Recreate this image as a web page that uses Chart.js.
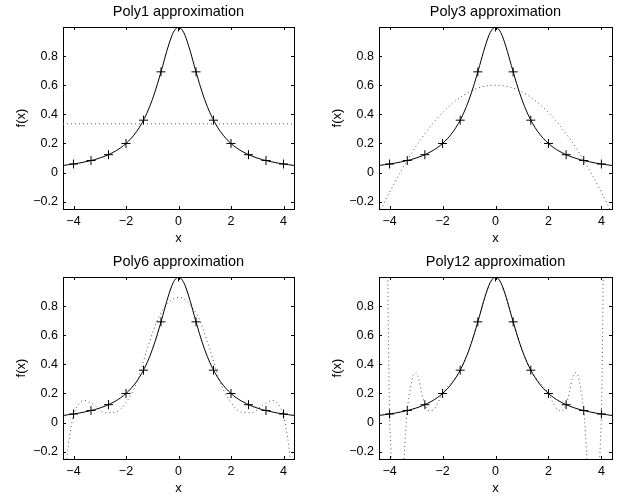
<!DOCTYPE html>
<html>
<head>
<meta charset="utf-8">
<script src="https://cdn.jsdelivr.net/npm/chart.js@4.4.0/dist/chart.umd.min.js"></script>
<style>
  html, body { margin: 0; padding: 0; background: #fff; overflow: hidden; }
  #fig { position: relative; width: 619px; height: 498px; }
  #fig canvas { position: absolute; }
</style>
</head>
<body>
<div id="fig">
  <canvas id="p1" width="310" height="250" style="left:0;top:0"></canvas>
  <canvas id="p2" width="309" height="250" style="left:310px;top:0"></canvas>
  <canvas id="p3" width="310" height="248" style="left:0;top:250px"></canvas>
  <canvas id="p4" width="309" height="248" style="left:310px;top:250px"></canvas>
</div>
<script>
"use strict";

const X_MIN = -4.4, X_MAX = 4.4;
const Y_MIN = -0.25, Y_MAX = 1;
const xTicks = [-4, -2, 0, 2, 4];
const yTicks = [-0.2, 0, 0.2, 0.4, 0.6, 0.8];
const titles = ["Poly1 approximation", "Poly3 approximation", "Poly6 approximation", "Poly12 approximation"];

// f(x) = 1/(1+x^2), solid curve
const curveX = [-4.4, -4.2, -4.0, -3.8, -3.6, -3.4, -3.2, -3.0, -2.8, -2.6, -2.4, -2.2, -2.0, -1.8, -1.6,
  -1.4, -1.2, -1.0, -0.8, -0.6, -0.4, -0.2, 0, 0.2, 0.4, 0.6, 0.8, 1.0, 1.2, 1.4, 1.6, 1.8, 2.0,
  2.2, 2.4, 2.6, 2.8, 3.0, 3.2, 3.4, 3.6, 3.8, 4.0, 4.2, 4.4];
const curveY = [0.049, 0.054, 0.059, 0.065, 0.072, 0.080, 0.089, 0.100, 0.113, 0.129, 0.148, 0.171, 0.200, 0.236, 0.281,
  0.338, 0.410, 0.500, 0.610, 0.735, 0.862, 0.962, 1.000, 0.962, 0.862, 0.735, 0.610, 0.500, 0.410, 0.338, 0.281, 0.236, 0.200,
  0.171, 0.148, 0.129, 0.113, 0.100, 0.089, 0.080, 0.072, 0.065, 0.059, 0.054, 0.049];

// the 13 sample points (+)
const sampleX = [-4, -3.333, -2.667, -2, -1.333, -0.667, 0, 0.667, 1.333, 2, 2.667, 3.333, 4];
const sampleY = [0.059, 0.083, 0.123, 0.200, 0.360, 0.692, 1.000, 0.692, 0.360, 0.200, 0.123, 0.083, 0.059];

// fitted polynomials (dotted)
const poly1X = [-4.4, 4.4];
const poly1Y = [0.335, 0.335];

const poly3X = [-4.4, -4.0, -3.6, -3.2, -2.8, -2.4, -2.0, -1.6, -1.2, -0.8, -0.4, 0,
  0.4, 0.8, 1.2, 1.6, 2.0, 2.4, 2.8, 3.2, 3.6, 4.0, 4.4];
const poly3Y = [-0.280, -0.135, 0.000, 0.125, 0.234, 0.330, 0.412, 0.480, 0.533, 0.571, 0.593, 0.600,
  0.593, 0.571, 0.533, 0.480, 0.412, 0.330, 0.234, 0.125, 0.000, -0.135, -0.280];

const poly6X = [-4.4, -4.3, -4.2, -4.1, -4.0, -3.8, -3.6, -3.2, -2.8, -2.4, -2.0, -1.6, -1.2, -0.8, -0.4, 0,
  0.4, 0.8, 1.2, 1.6, 2.0, 2.4, 2.8, 3.2, 3.6, 3.8, 4.0, 4.1, 4.2, 4.3, 4.4];
const poly6Y = [-0.55, -0.33, -0.16, -0.04, 0.05, 0.125, 0.152, 0.120, 0.068, 0.072, 0.138, 0.270, 0.500, 0.705, 0.820, 0.860,
  0.820, 0.705, 0.500, 0.270, 0.138, 0.072, 0.068, 0.120, 0.152, 0.125, 0.05, -0.04, -0.16, -0.33, -0.55];

const poly12X = [-4.4, -4.2, -4.1, -4.05, -4.0, -3.96, -3.9, -3.83, -3.67, -3.5, -3.4, -3.333, -3.2, -3.1, -3.0,
  -2.9, -2.8, -2.667, -2.5, -2.333, -2.167, -2.0, -1.833, -1.667, -1.5, -1.333, -1.0, -0.667, -0.333, 0,
  0.333, 0.667, 1.0, 1.333, 1.5, 1.667, 1.833, 2.0, 2.167, 2.333, 2.5, 2.667, 2.8, 2.9,
  3.0, 3.1, 3.2, 3.333, 3.4, 3.5, 3.67, 3.83, 3.9, 3.96, 4.0, 4.05, 4.1, 4.2, 4.4];
const poly12Y = [14.0, 3.60, 1.60, 0.70, 0.059, -0.14, -0.38, -0.60, -0.80, -0.40, -0.08, 0.083, 0.250, 0.330, 0.342,
  0.300, 0.215, 0.123, 0.082, 0.090, 0.140, 0.200, 0.243, 0.276, 0.313, 0.360, 0.499, 0.692, 0.901, 1.000,
  0.901, 0.692, 0.499, 0.360, 0.313, 0.276, 0.243, 0.200, 0.140, 0.090, 0.082, 0.123, 0.215, 0.300,
  0.342, 0.330, 0.250, 0.083, -0.08, -0.40, -0.80, -0.60, -0.38, -0.14, 0.059, 0.70, 1.60, 3.60, 14.0];

const FONT = "'Liberation Sans', Arial, Helvetica, sans-serif";
const tickFont = {family: FONT, size: 12.5};
const labelFont = {family: FONT, size: 13};
const titleFont = {family: FONT, size: 14.5};

const pts = (xs, ys) => xs.map((x, i) => ({x: x, y: ys[i]}));
const fmt = v => v < 0 ? "\u2212" + (-v) : String(v);

// matlab-style tick marks drawn inside the box on all four sides
const insideTicks = {
    id: "insideTicks",
    afterDatasetsDraw(chart) {
        const {ctx, chartArea: a, scales} = chart;
        const len = 3;
        ctx.save();
        ctx.strokeStyle = "#000";
        ctx.lineWidth = 1;
        ctx.beginPath();
        scales.x.ticks.forEach(t => {
            const px = Math.round(scales.x.getPixelForValue(t.value)) + 0.5;
            ctx.moveTo(px, a.bottom); ctx.lineTo(px, a.bottom - len);
            ctx.moveTo(px, a.top); ctx.lineTo(px, a.top + len);
        });
        scales.y.ticks.forEach(t => {
            const py = Math.round(scales.y.getPixelForValue(t.value)) + 0.5;
            ctx.moveTo(a.left, py); ctx.lineTo(a.left + len, py);
            ctx.moveTo(a.right, py); ctx.lineTo(a.right - len, py);
        });
        ctx.stroke();
        ctx.restore();
    }
};

const panels = [
    {id: "p1", title: titles[0], ax: poly1X, ay: poly1Y, w: 310, h: 250, area: [63, 27, 294, 209]},
    {id: "p2", title: titles[1], ax: poly3X, ay: poly3Y, w: 309, h: 250, area: [69, 27, 302, 209]},
    {id: "p3", title: titles[2], ax: poly6X, ay: poly6Y, w: 310, h: 248, area: [63, 27, 294, 209]},
    {id: "p4", title: titles[3], ax: poly12X, ay: poly12Y, w: 309, h: 248, area: [69, 27, 302, 209]}
];

const frame = {display: true, drawOnChartArea: false, drawTicks: false};
const edge = {display: true, color: "#000", width: 1};

panels.forEach(p => {
    const [left, top, right, bottom] = p.area;
    new Chart(document.getElementById(p.id), {
        type: "line",
        data: {
            datasets: [
                {
                    data: pts(curveX, curveY),
                    borderColor: "#000",
                    borderWidth: 1,
                    pointRadius: 0,
                    cubicInterpolationMode: "monotone"
                },
                {
                    data: pts(sampleX, sampleY),
                    showLine: false,
                    pointStyle: "cross",
                    pointRadius: 4.5,
                    pointBorderWidth: 1,
                    pointBorderColor: "#000"
                },
                {
                    data: pts(p.ax, p.ay),
                    borderColor: "#555",
                    borderWidth: 1,
                    borderDash: [1, 3],
                    pointRadius: 0,
                    cubicInterpolationMode: "monotone"
                }
            ]
        },
        options: {
            responsive: false,
            animation: false,
            events: [],
            layout: {padding: 0},
            plugins: {legend: {display: false}, tooltip: {enabled: false}},
            scales: {
                x: {
                    type: "linear", position: "bottom", min: X_MIN, max: X_MAX,
                    afterBuildTicks: s => { s.ticks = xTicks.map(v => ({value: v})); },
                    afterFit: s => { s.height = p.h - bottom; },
                    grid: frame, border: edge,
                    ticks: {color: "#000", font: tickFont, padding: 5, maxRotation: 0, autoSkip: false, callback: fmt},
                    title: {display: true, text: "x", color: "#000", font: labelFont,
                        padding: {top: 0, bottom: p.h - bottom - 29.5 - 7.8}}
                },
                x2: {
                    type: "linear", position: "top", min: X_MIN, max: X_MAX,
                    afterFit: s => { s.height = top; },
                    grid: frame, border: edge,
                    ticks: {display: false},
                    title: {display: true, text: p.title, color: "#000", font: titleFont,
                        padding: {top: 3.5, bottom: 0}}
                },
                y: {
                    type: "linear", position: "left", min: Y_MIN, max: Y_MAX,
                    afterBuildTicks: s => { s.ticks = yTicks.map(v => ({value: v})); },
                    afterFit: s => { s.width = left; },
                    grid: frame, border: edge,
                    ticks: {color: "#000", font: tickFont, padding: 5, autoSkip: false, callback: fmt},
                    title: {display: true, text: "f(x)", color: "#000", font: labelFont,
                        padding: {top: left - 42 - 7.8, bottom: 0}}
                },
                y2: {
                    type: "linear", position: "right", min: Y_MIN, max: Y_MAX,
                    afterFit: s => { s.width = p.w - right; },
                    grid: frame, border: edge,
                    ticks: {display: false}
                }
            }
        },
        plugins: [insideTicks]
    });
});
</script>
</body>
</html>
